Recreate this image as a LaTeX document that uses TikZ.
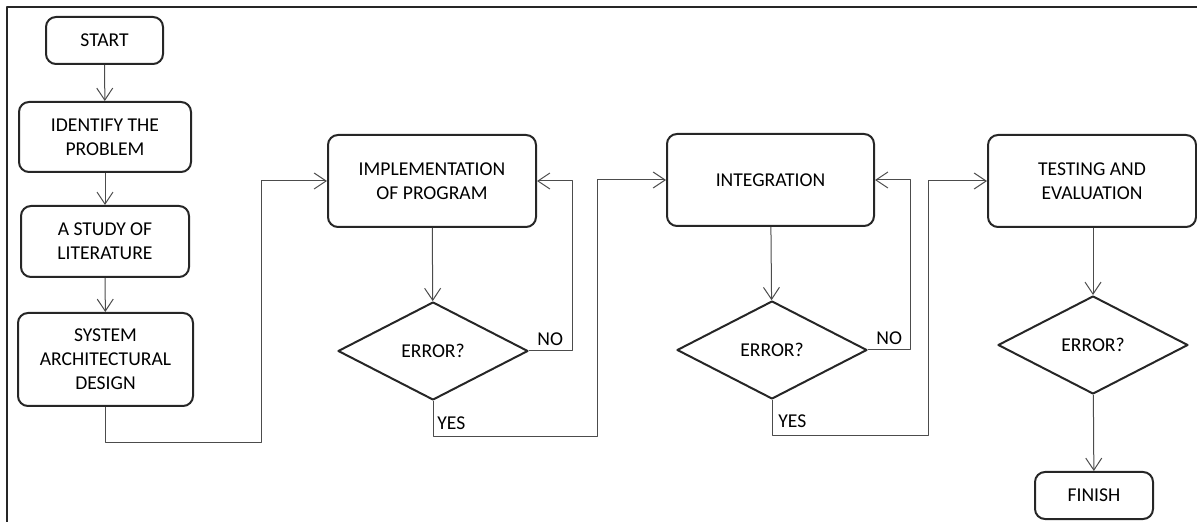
\documentclass[tikz,border=0pt]{standalone}
\usepackage{fontspec}
\setmainfont{Carlito}
\usetikzlibrary{shapes.geometric,arrows.meta}

\begin{document}
\begin{tikzpicture}[x=0.5pt, y=-0.5pt, line join=round,
    box/.style={draw=black!85, line width=1pt, rounded corners=5pt, align=center, inner sep=0pt, font=\fontsize{9.8}{12}\selectfont},
    dec/.style={draw=black!85, line width=1pt, diamond, inner sep=0pt, minimum width=95pt, minimum height=49pt, font=\fontsize{9.8}{12}\selectfont},
    arr/.style={draw=black!70, line width=0.5pt, -{Straight Barb[length=6pt,width=8pt]}},
    lbl/.style={inner sep=0pt, font=\fontsize{9.8}{12}\selectfont}]

                \useasboundingbox (0,0) rectangle (1197,522);
                \draw[line width=0.75pt, black!85] (7,522) -- (7,7) -- (1197,7);

                % left column
                \node[box, minimum width=58.5pt, minimum height=23.5pt] (start) at (104.5,40.5) {START};
                \node[box, minimum width=86pt, minimum height=35pt] (ident) at (105,137) {IDENTIFY THE\\PROBLEM};
                \node[box, minimum width=84pt, minimum height=35.5pt] (study) at (105,241.5) {A STUDY OF\\LITERATURE};
                \node[box, minimum width=87.5pt, minimum height=46.5pt] (sys) at (105.5,359.5) {SYSTEM\\ARCHITECTURAL\\DESIGN};

                % upper row
                \node[box, minimum width=104pt, minimum height=46pt] (impl) at (432,181) {IMPLEMENTATION\\OF PROGRAM};
                \node[box, minimum width=103.5pt, minimum height=46pt] (integ) at (770.5,180) {INTEGRATION};
                \node[box, minimum width=104pt, minimum height=46pt] (test) at (1092,181) {TESTING AND\\EVALUATION};

                % decisions
                \node[dec] (err1) at (433,351) {ERROR?};
                \node[dec] (err2) at (772,350) {ERROR?};
                \node[dec] (err3) at (1093,345) {ERROR?};

                \node[box, minimum width=59pt, minimum height=23.5pt] (finish) at (1094,495.5) {FINISH};

                % bend points
                \coordinate (j1) at (261,443);
                \coordinate (no1) at (572,181);
                \coordinate (yes1) at (597,437);
                \coordinate (no2) at (910,180);
                \coordinate (yes2) at (928,436);

                \draw[arr] (start) -- (ident);
                \draw[arr] (ident) -- (study);
                \draw[arr] (study) -- (sys);
                \draw[arr] (sys.south) |- (j1) |- (impl.west);

                \draw[arr] (impl) -- (err1);
                \draw[arr] (err1.east) -| (no1) -- (impl.east);
                \draw[arr] (err1.south) |- (yes1) |- (integ.west);

                \draw[arr] (integ) -- (err2);
                \draw[arr] (err2.east) -| (no2) -- (integ.east);
                \draw[arr] (err2.south) |- (yes2) |- (test.west);

                \draw[arr] (test.south -| err3.north) -- (err3.north);
                \draw[arr] (err3) -- (finish);

                \node[lbl, anchor=south west] (no1lbl) at (537,346) {NO};
                \node[lbl, anchor=west] (yes1lbl) at (437,423) {YES};
                \node[lbl, anchor=south west] (no2lbl) at (876,345) {NO};
                \node[lbl, anchor=west] (yes2lbl) at (778,421) {YES};

            \end{tikzpicture}
\end{document}
